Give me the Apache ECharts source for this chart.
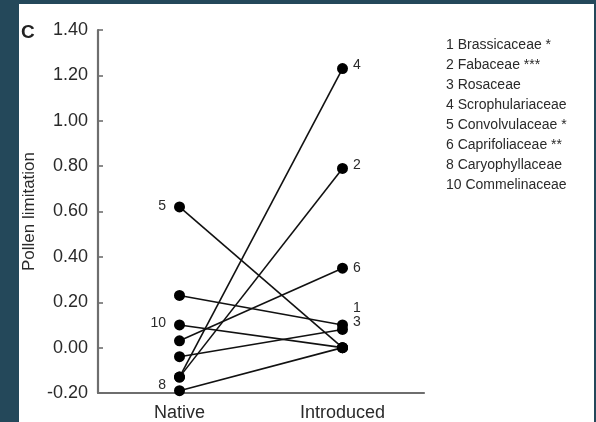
<!DOCTYPE html>
<html>
<head>
<meta charset="utf-8">
<style>
  html, body { margin: 0; padding: 0; background: #24485a; }
  #chart { width: 596px; height: 422px; }
</style>
<script src="https://cdn.jsdelivr.net/npm/echarts@6/dist/echarts.min.js"></script>
</head>
<body>
<div id="chart"></div>
<script>
// Pollen limitation of plant families in native vs. introduced ranges
const categories = ['Native', 'Introduced'];
const familyIds = ['1', '2', '3', '4', '5', '6', '8', '10'];
const familyNames = [
  'Brassicaceae *', 'Fabaceae ***', 'Rosaceae', 'Scrophulariaceae',
  'Convolvulaceae *', 'Caprifoliaceae **', 'Caryophyllaceae', 'Commelinaceae'
];
const nativeValues =     [0.23, -0.13, -0.04, -0.13, 0.62, 0.03, -0.19, 0.10];
const introducedValues = [0.10,  0.79,  0.08,  1.23, 0.00, 0.35,  0.00, 0.00];
const yTicks = [-0.20, 0.00, 0.20, 0.40, 0.60, 0.80, 1.00, 1.20, 1.40];

// which end of each line carries the family number
const labelSide = { '5': 'left', '10': 'left', '8': 'left' };
// small nudges so the clustered numbers stay readable
const labelNudge = {
  '1': [0, -17], '3': [0, -7], '4': [0, -3], '2': [0, -3],
  '8': [0, -6], '10': [0, -2], '5': [0, -1]
};

const FONT = 'Liberation Sans, Arial, sans-serif';
const TEXT = '#2a2a2a';

const series = familyIds.map((id, i) => {
  const side = labelSide[id] || 'right';
  const nudge = labelNudge[id] || [0, 0];
  const lbl = {
    show: true,
    formatter: id,
    color: TEXT,
    fontFamily: FONT,
    fontSize: 14,
    position: side,
    distance: side === 'left' ? 8 : 5,
    offset: nudge
  };
  return {
    type: 'line',
    name: id,
    data: [
      { value: nativeValues[i], label: side === 'left' ? lbl : { show: false } },
      { value: introducedValues[i], label: side === 'right' ? lbl : { show: false } }
    ],
    symbol: 'circle',
    symbolSize: 11,
    itemStyle: { color: '#000' },
    lineStyle: { color: '#111', width: 1.6 },
    silent: true,
    animation: false,
    z: 3
  };
});

const legendText = familyIds.map((id, i) => id + ' ' + familyNames[i]).join('\n');

const chart = echarts.init(document.getElementById('chart'));
chart.setOption({
  backgroundColor: '#24485a',
  animation: false,
  grid: { left: 98, top: 30, width: 326, height: 364, containLabel: false },
  xAxis: {
    type: 'category',
    data: categories,
    boundaryGap: true,
    axisLine: { onZero: false, lineStyle: { color: '#6e6e6e', width: 2.2 } },
    axisTick: { show: false },
    axisLabel: { color: TEXT, fontFamily: FONT, fontSize: 18, margin: 11 }
  },
  yAxis: {
    type: 'value',
    min: -0.2,
    max: 1.4,
    interval: 0.2,
    name: 'Pollen limitation',
    nameLocation: 'middle',
    nameGap: 60,
    nameMoveOverlap: false,
    nameTextStyle: { color: TEXT, fontFamily: FONT, fontSize: 17 },
    splitLine: { show: false },
    axisLine: { show: true, lineStyle: { color: '#6e6e6e', width: 2.2 } },
    axisTick: { show: true, inside: true, length: 5, lineStyle: { color: '#6e6e6e', width: 1.6 } },
    axisLabel: {
      color: TEXT, fontFamily: FONT, fontSize: 18, margin: 10,
      formatter: v => {
        const t = yTicks.find(k => Math.abs(k - v) < 1e-6);
        return (t !== undefined ? t : v).toFixed(2);
      }
    }
  },
  graphic: [
    {
      type: 'rect', z: -10, silent: true,
      shape: { x: 19, y: 4, width: 575, height: 418 },
      style: { fill: '#ffffff' }
    },
    {
      type: 'text', left: 21, top: 23, silent: true,
      style: { text: 'C', font: 'bold 19px ' + FONT, fill: '#222' }
    },
    {
      type: 'text', left: 446, top: 35, silent: true,
      style: { text: legendText, font: '14px ' + FONT, fill: TEXT, lineHeight: 20 }
    }
  ],
  series: series
});
</script>
</body>
</html>
